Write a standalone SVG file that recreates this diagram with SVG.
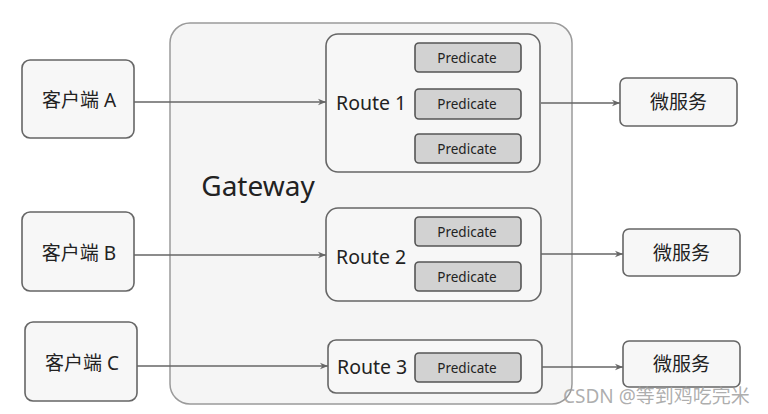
<svg xmlns="http://www.w3.org/2000/svg" width="768" height="414" viewBox="0 0 768 414">
<style>
.box{fill:#f7f7f7;stroke:#666;stroke-width:1.6}
.gw{fill:#f5f5f5;stroke:#9a9a9a;stroke-width:1.5}
.route{fill:#f7f7f7;stroke:#666;stroke-width:1.6}
.pred{fill:#d2d2d2;stroke:#555;stroke-width:1.6}
.t{font-family:"Noto Sans","Noto Sans CJK SC",sans-serif;fill:#222;text-anchor:middle;dominant-baseline:central}
.cn{font-size:19px}
.rt{font-size:19.5px;text-anchor:start}
.pt{font-size:13.5px}
.conn line{stroke:#666;stroke-width:1.5;marker-end:url(#arr)}
</style>
<defs>
<marker id="arr" viewBox="0 0 10 10" refX="10" refY="5" markerWidth="8" markerHeight="8" markerUnits="userSpaceOnUse" orient="auto">
<path d="M0,1 L10,5 L0,9 L3,5 Z" fill="#666"/>
</marker>
</defs>
<rect width="768" height="414" fill="#ffffff"/>
<g id="gateway">
<rect class="gw" x="170" y="23" width="402" height="381" rx="20"/>
<text class="t" x="258" y="185" style="font-size:28px">Gateway</text>
</g>
<g id="clientA"><rect class="box" x="22" y="60" width="112" height="78" rx="8"/><text class="t cn" x="79" y="100">客户端 A</text></g>
<g id="clientB"><rect class="box" x="22" y="212" width="112" height="79" rx="8"/><text class="t cn" x="79" y="253">客户端 B</text></g>
<g id="clientC"><rect class="box" x="25" y="322" width="112" height="79" rx="8"/><text class="t cn" x="82" y="363">客户端 C</text></g>
<g id="route1">
<rect class="route" x="326" y="34" width="214" height="138" rx="12"/>
<text class="t rt" x="336" y="102">Route 1</text>
<rect class="pred" x="415" y="43" width="106" height="29" rx="4"/><text class="t pt" x="467" y="57.5">Predicate</text>
<rect class="pred" x="415" y="89" width="106" height="30" rx="4"/><text class="t pt" x="467" y="104">Predicate</text>
<rect class="pred" x="415" y="134" width="106" height="29" rx="4"/><text class="t pt" x="467" y="148.5">Predicate</text>
</g>
<g id="route2">
<rect class="route" x="326" y="208" width="215" height="93" rx="12"/>
<text class="t rt" x="336" y="256">Route 2</text>
<rect class="pred" x="415" y="217" width="106" height="29" rx="4"/><text class="t pt" x="467" y="231.5">Predicate</text>
<rect class="pred" x="415" y="262" width="106" height="29" rx="4"/><text class="t pt" x="467" y="276.5">Predicate</text>
</g>
<g id="route3">
<rect class="route" x="328" y="340" width="214" height="53" rx="8"/>
<text class="t rt" x="337" y="366">Route 3</text>
<rect class="pred" x="415" y="353" width="106" height="29" rx="4"/><text class="t pt" x="467" y="367.5">Predicate</text>
</g>
<g id="ms1"><rect class="box" x="620" y="78" width="117" height="48" rx="6"/><text class="t cn" x="678.5" y="102">微服务</text></g>
<g id="ms2"><rect class="box" x="623" y="229" width="117" height="47" rx="6"/><text class="t cn" x="681.5" y="252.5">微服务</text></g>
<g id="ms3"><rect class="box" x="623" y="341" width="117" height="46" rx="6"/><text class="t cn" x="681.5" y="364">微服务</text></g>
<g class="conn" id="connectors">
<line x1="134" y1="102" x2="326" y2="102"/>
<line x1="541" y1="103" x2="620" y2="103"/>
<line x1="134" y1="255" x2="326" y2="255"/>
<line x1="541" y1="254" x2="623" y2="254"/>
<line x1="137" y1="366" x2="328" y2="366"/>
<line x1="542" y1="367" x2="623" y2="367"/>
</g>
<text x="563" y="403" style="font-family:'Noto Sans','Noto Sans CJK SC',sans-serif;font-size:19px;fill:#a0a0a0;fill-opacity:0.85">CSDN @等到鸡吃完米</text>
</svg>
